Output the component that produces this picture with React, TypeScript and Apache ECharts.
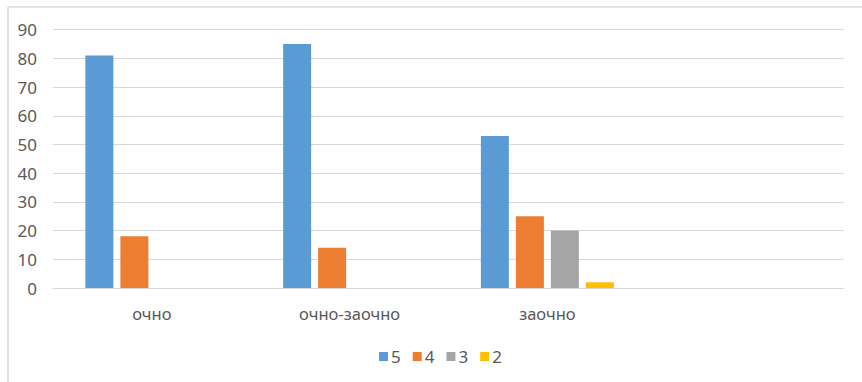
import React, { useEffect, useRef } from "react";
import * as echarts from "echarts";

const categories = ["очно", "очно-заочно", "заочно", ""];
const seriesNames = ["5", "4", "3", "2"];
const values5 = [81, 85, 53, null];
const values4 = [18, 14, 25, null];
const values3 = [0, 0, 20, null];
const values2 = [0, 0, 2, null];
const colors = ["#5b9bd5", "#ed7d31", "#a5a5a5", "#ffc000"];

export default function App() {
  const ref = useRef<HTMLDivElement>(null);
  useEffect(() => {
    if (!ref.current) return;
    const chart = echarts.init(ref.current, null, { renderer: "svg" });
    const data = [values5, values4, values3, values2];
    const font = "'Noto Sans', 'Open Sans', sans-serif";
    chart.setOption({
      animation: false,
      backgroundColor: "#ffffff",
      textStyle: { fontFamily: font },
      grid: { left: 53, right: 18, top: 29.7, bottom: 94, containLabel: false },
      legend: {
        data: seriesNames,
        left: 379,
        top: 348,
        padding: 0,
        itemWidth: 9,
        itemHeight: 9,
        itemGap: 12,
        icon: "rect",
        textStyle: { color: "#595959", fontSize: 17, fontFamily: font, padding: [0, 0, 0, -2] },
      },
      xAxis: {
        type: "category",
        data: categories,
        axisLine: { lineStyle: { color: "#d9d9d9", width: 1 } },
        axisTick: { show: false },
        axisLabel: { color: "#595959", fontSize: 16.5, margin: 17, fontFamily: font },
      },
      yAxis: {
        type: "value",
        min: 0,
        max: 90,
        interval: 10,
        axisLine: { show: false },
        axisTick: { show: false },
        splitLine: { lineStyle: { color: "#d9d9d9", width: 1 } },
        axisLabel: { color: "#595959", fontSize: 17, margin: 16, fontFamily: font },
      },
      graphic: [
        { type: "line", shape: { x1: 8, y1: 7, x2: 862, y2: 7 }, style: { stroke: "#d9d9d9", lineWidth: 1.5 } },
        { type: "line", shape: { x1: 8, y1: 7, x2: 8, y2: 382 }, style: { stroke: "#d9d9d9", lineWidth: 1.5 } },
      ],
      series: seriesNames.map((n, i) => ({
        name: n,
        type: "bar",
        data: data[i],
        barWidth: 28,
        barGap: "25%",
        itemStyle: { color: colors[i] },
      })),
    });
    return () => chart.dispose();
  }, []);
  return <div ref={ref} style={{ position: "fixed", left: 0, top: 0, width: 862, height: 382 }} />;
}
